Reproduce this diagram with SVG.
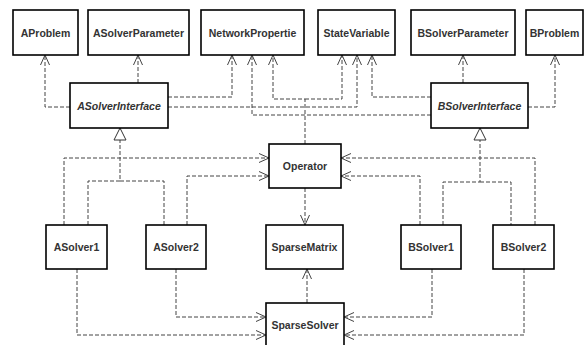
<svg xmlns="http://www.w3.org/2000/svg" width="588" height="345" viewBox="0 0 588 345">
<style>
.box{fill:#fff;stroke:#000;stroke-width:1.6}
.t{font-family:"Liberation Sans",Arial,sans-serif;font-size:10.5px;font-weight:bold;fill:#333;text-anchor:middle;dominant-baseline:central}
.i{font-style:italic}
.c{fill:none;stroke:#444;stroke-width:1;stroke-dasharray:4,2}
.dep{marker-end:url(#open)}
.inh{marker-end:url(#tri)}
</style>
<defs>
<marker id="open" viewBox="0 0 12 12" refX="11" refY="6" markerWidth="12" markerHeight="12" markerUnits="userSpaceOnUse" orient="auto">
<path d="M1,1.5 L11,6 L1,10.5" fill="none" stroke="#444" stroke-width="1"/>
</marker>
<marker id="tri" viewBox="0 0 14 14" refX="13" refY="7" markerWidth="14" markerHeight="14" markerUnits="userSpaceOnUse" orient="auto">
<path d="M1,1 L13,7 L1,13 Z" fill="#fff" stroke="#333" stroke-width="1"/>
</marker>
</defs>
<rect width="588" height="345" fill="#fff"/>
<g id="connectors">
<path class="c dep" d="M70,107 H45 V55"/>
<path class="c dep" d="M138,83 V55"/>
<path class="c dep" d="M168,97 H232 V55"/>
<path class="c dep" d="M168,107 H357 V55"/>
<path class="c dep" d="M305,144 V99 H273 V55"/>
<path class="c dep" d="M305,99 H342 V55"/>
<path class="c dep" d="M431,115 H252 V55"/>
<path class="c dep" d="M431,97 H372 V55"/>
<path class="c dep" d="M463,83 V55"/>
<path class="c dep" d="M528,107 H555 V55"/>
<path class="c inh" d="M88,225 V181 H120 V128"/>
<path class="c" d="M120,181 H164 V225"/>
<path class="c inh" d="M443,225 V182 H480 V128"/>
<path class="c" d="M480,182 H511 V225"/>
<path class="c dep" d="M64,225 V158 H269"/>
<path class="c dep" d="M187,225 V176 H269"/>
<path class="c dep" d="M420,225 V176 H341"/>
<path class="c dep" d="M535,225 V158 H341"/>
<path class="c dep" d="M305,188 V225"/>
<path class="c dep" d="M307,303 V269"/>
<path class="c dep" d="M176,269 V317 H266"/>
<path class="c dep" d="M77,269 V335 H266"/>
<path class="c dep" d="M432,269 V317 H344"/>
<path class="c dep" d="M524,269 V335 H344"/>
</g>
<g id="AProblem"><rect class="box" x="13" y="10" width="65" height="45"/><text class="t" x="45.5" y="32.5">AProblem</text></g>
<g id="ASolverParameter"><rect class="box" x="88" y="10" width="101" height="45"/><text class="t" x="138.5" y="32.5">ASolverParameter</text></g>
<g id="NetworkPropertie"><rect class="box" x="201" y="10" width="103" height="45"/><text class="t" x="252.5" y="32.5">NetworkPropertie</text></g>
<g id="StateVariable"><rect class="box" x="318" y="10" width="77" height="45"/><text class="t" x="356.5" y="32.5">StateVariable</text></g>
<g id="BSolverParameter"><rect class="box" x="411" y="10" width="104" height="45"/><text class="t" x="463" y="32.5">BSolverParameter</text></g>
<g id="BProblem"><rect class="box" x="526" y="10" width="57" height="45"/><text class="t" x="554.5" y="32.5">BProblem</text></g>
<g id="ASolverInterface"><rect class="box" x="70" y="83" width="98" height="45"/><text class="t i" x="119" y="105.5">ASolverInterface</text></g>
<g id="BSolverInterface"><rect class="box" x="431" y="83" width="97" height="45"/><text class="t i" x="479.5" y="105.5">BSolverInterface</text></g>
<g id="Operator"><rect class="box" x="269" y="144" width="72" height="44"/><text class="t" x="305" y="166">Operator</text></g>
<g id="ASolver1"><rect class="box" x="46" y="225" width="61" height="44"/><text class="t" x="76.5" y="247">ASolver1</text></g>
<g id="ASolver2"><rect class="box" x="146" y="225" width="60" height="44"/><text class="t" x="176" y="247">ASolver2</text></g>
<g id="SparseMatrix"><rect class="box" x="266" y="225" width="77" height="44"/><text class="t" x="304.5" y="247">SparseMatrix</text></g>
<g id="BSolver1"><rect class="box" x="401" y="225" width="60" height="44"/><text class="t" x="431" y="247">BSolver1</text></g>
<g id="BSolver2"><rect class="box" x="493" y="225" width="61" height="44"/><text class="t" x="523.5" y="247">BSolver2</text></g>
<g id="SparseSolver"><rect class="box" x="266" y="303" width="78" height="45"/><text class="t" x="305" y="325">SparseSolver</text></g>
</svg>
